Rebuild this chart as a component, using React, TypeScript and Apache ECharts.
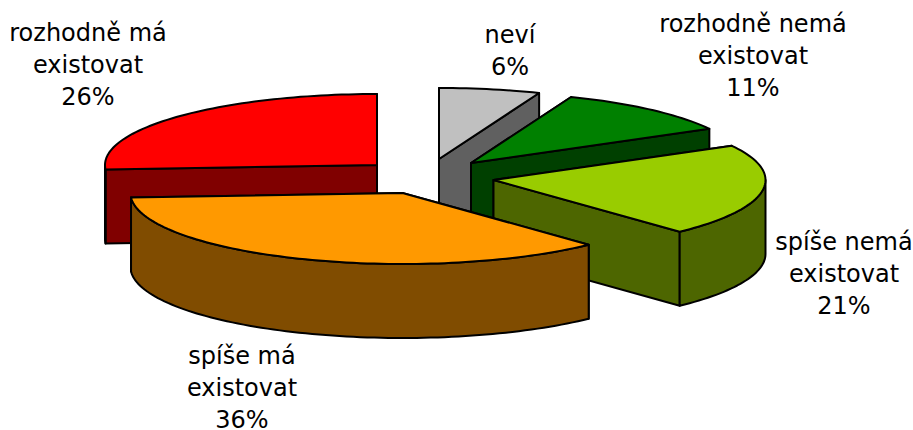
import React, { useEffect, useRef } from "react";
import * as echarts from "echarts";

const categories = ["nev\u00ed", "rozhodn\u011b nem\u00e1\nexistovat", "spí\u0161e nem\u00e1\nexistovat", "spí\u0161e m\u00e1\nexistovat", "rozhodn\u011b m\u00e1\nexistovat"];
const values = [6, 11, 21, 36, 26];
const topColors = ["#C0C0C0", "#008000", "#99CC00", "#FF9900", "#FF0000"];
const sideColors = ["#606060", "#004000", "#4D6600", "#804C00", "#800000"];
// Slice centres (exploded pie) and label anchors, same order as categories.
const centers = [[439, 159], [471, 163], [493.5, 180], [402.5, 193], [377, 165]];
const labelAnchors = [[510, 51], [753, 56], [844, 274], [242, 388], [88, 65]];
const drawOrder = [0, 1, 4, 2, 3];
const RX = 272;
const RY = 71;
const DEPTH = 74;

const total = values.reduce((a, b) => a + b, 0);
const starts: number[] = [];
values.reduce((acc, v, i) => {
  starts[i] = acc;
  return acc + (v / total) * 360;
}, 0);

function pt(c: number[], deg: number, dy = 0) {
  const r = (deg * Math.PI) / 180;
  return [c[0] + RX * Math.sin(r), c[1] - RY * Math.cos(r) + dy];
}
function arc(c: number[], a0: number, a1: number, dy = 0) {
  const n = Math.max(2, Math.ceil((a1 - a0) / 1.5));
  const out: number[][] = [];
  for (let i = 0; i <= n; i++) out.push(pt(c, a0 + ((a1 - a0) * i) / n, dy));
  return out;
}

function renderItem(params: any, api: any) {
  const i = drawOrder[params.dataIndex];
  const v = api.value(1) as number;
  const a0 = starts[i];
  const a1 = a0 + (v / total) * 360;
  const c = centers[i];
  const wall = { fill: sideColors[i], stroke: "#000", lineWidth: 2, lineJoin: "round" };
  const children: any[] = [];
  const poly = (points: number[][], style: any) => children.push({ type: "polygon", shape: { points }, style });
  const radial = (a: number) => {
    const p = pt(c, a);
    poly([c, p, [p[0], p[1] + DEPTH], [c[0], c[1] + DEPTH]], wall);
  };
  radial(a0);
  radial(a1);
  const r0 = Math.max(a0, 90);
  const r1 = Math.min(a1, 270);
  if (r1 > r0) {
    poly([...arc(c, r0, r1), ...arc(c, r0, r1, DEPTH).reverse()], wall);
  }
  poly([c, ...arc(c, a0, a1)], { fill: topColors[i], stroke: "#000", lineWidth: 2, lineJoin: "round" });
  return { type: "group", children };
}

export default function App() {
  const ref = useRef<HTMLDivElement>(null);
  useEffect(() => {
    const chart = echarts.init(ref.current!, undefined, { renderer: "svg" });
    chart.setOption({
      animation: false,
      backgroundColor: "#fff",
      series: [
        {
          type: "custom",
          coordinateSystem: "none",
          renderItem,
          silent: true,
          data: drawOrder.map((i) => [i, values[i]]),
        },
      ],
      graphic: categories.map((name, i) => ({
        type: "text",
        x: labelAnchors[i][0],
        y: labelAnchors[i][1],
        z: 10,
        style: {
          text: `${name}\n${values[i]}%`,
          fill: "#000",
          font: '24px "DejaVu Sans"',
          align: "center",
          verticalAlign: "middle",
          lineHeight: 32,
        },
      })),
    });
    return () => chart.dispose();
  }, []);
  return (
    <div
      ref={ref}
      style={{ position: "fixed", left: 0, top: 0, width: 913, height: 430 }}
    />
  );
}
